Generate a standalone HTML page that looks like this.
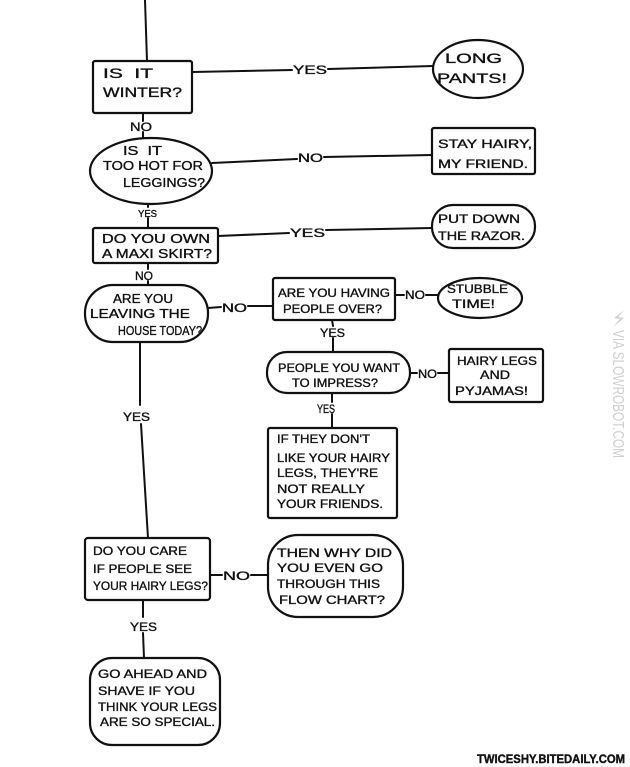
<!DOCTYPE html>
<html><head><meta charset="utf-8"><style>
html,body{margin:0;padding:0;background:#fff;}
svg{display:block;}
text{font-family:"Liberation Sans",sans-serif;fill:#111;stroke:#111;stroke-width:0.35;}
.l{fill:none;stroke:#111;stroke-width:2;stroke-linecap:round;}
.s{fill:#fff;stroke:#111;stroke-width:2.2;}
</style></head><body>
<svg width="630" height="767" viewBox="0 0 630 767" xmlns="http://www.w3.org/2000/svg">
<rect width="630" height="767" fill="#fff"/>
<!-- connectors -->
<path class="l" d="M145 0 L147 61"/>
<path class="l" d="M192 72 L292 70 M328 69 L433 66"/>
<path class="l" d="M143 113 L143 121 M143 132 L143 139"/>
<path class="l" d="M212 163 L297 159 M324 157 L432 155"/>
<path class="l" d="M148 203 L148 207 M148 218 L148 228"/>
<path class="l" d="M218 236 L289 233 M326 230 L432 228"/>
<path class="l" d="M148 263 L148 269 M148 281 L148 285"/>
<path class="l" d="M208 308 L221 307 M248 306 L273 306"/>
<path class="l" d="M395 295 L404 295 M426 295 L438 295"/>
<path class="l" d="M332 320 L333 326 M333 338 L333 352"/>
<path class="l" d="M410 373 L417 373 M438 373 L450 373"/>
<path class="l" d="M332 393 L332 402 M332 414 L332 428"/>
<path class="l" d="M140 342 L140 405 M141 424 L148 538"/>
<path class="l" d="M210 575 L222 575 M251 575 L268 575"/>
<path class="l" d="M143 600 L143 617 M143 633 L144 658"/>

<!-- shapes -->
<rect class="s" x="93" y="61" width="99" height="52" rx="2"/>
<ellipse class="s" cx="478" cy="69" rx="45" ry="29"/>
<ellipse class="s" cx="151" cy="171" rx="61" ry="33"/>
<rect class="s" x="432" y="128" width="103" height="46" rx="2"/>
<rect class="s" x="93" y="228" width="125" height="35" rx="2"/>
<rect class="s" x="432" y="205" width="103" height="43" rx="21"/>
<rect class="s" x="85" y="285" width="123" height="57" rx="28"/>
<rect class="s" x="273" y="278" width="122" height="42" rx="2"/>
<ellipse class="s" cx="480" cy="298" rx="42" ry="20"/>
<rect class="s" x="267" y="352" width="143" height="41" rx="20"/>
<rect class="s" x="449" y="349" width="94" height="53" rx="2"/>
<rect class="s" x="268" y="428" width="129" height="90" rx="2"/>
<rect class="s" x="85" y="538" width="125" height="62" rx="3"/>
<rect class="s" x="268" y="535" width="135" height="82" rx="30"/>
<rect class="s" x="90" y="658" width="130" height="87" rx="22"/>

<!-- node text -->
<g font-size="14">
<text x="103" y="78" textLength="50" lengthAdjust="spacingAndGlyphs">IS&#160;&#160;IT</text>
<text x="103" y="97" textLength="79" lengthAdjust="spacingAndGlyphs">WINTER?</text>
<text x="445" y="63" textLength="57" lengthAdjust="spacingAndGlyphs">LONG</text>
<text x="437" y="83" textLength="70" lengthAdjust="spacingAndGlyphs">PANTS!</text>
</g>
<g font-size="13">
<text x="123" y="155" textLength="39" lengthAdjust="spacingAndGlyphs">IS&#160;&#160;IT</text>
<text x="103" y="170" textLength="100" lengthAdjust="spacingAndGlyphs">TOO HOT FOR</text>
<text x="123" y="187" textLength="82" lengthAdjust="spacingAndGlyphs">LEGGINGS?</text>
<text x="102" y="243" textLength="108" lengthAdjust="spacingAndGlyphs">DO YOU OWN</text>
<text x="102" y="258" textLength="110" lengthAdjust="spacingAndGlyphs">A MAXI SKIRT?</text>
<text x="113" y="303" textLength="60" lengthAdjust="spacingAndGlyphs">ARE YOU</text>
<text x="90" y="318" textLength="100" lengthAdjust="spacingAndGlyphs">LEAVING THE</text>
<text x="118" y="335" textLength="84" lengthAdjust="spacingAndGlyphs">HOUSE TODAY?</text>
</g>
<g font-size="12">
<text x="438" y="148" textLength="94" lengthAdjust="spacingAndGlyphs">STAY HAIRY,</text>
<text x="438" y="168" textLength="90" lengthAdjust="spacingAndGlyphs">MY FRIEND.</text>
<text x="438" y="223" textLength="82" lengthAdjust="spacingAndGlyphs">PUT DOWN</text>
<text x="438" y="240" textLength="87" lengthAdjust="spacingAndGlyphs">THE RAZOR.</text>
<text x="278" y="297" textLength="112" lengthAdjust="spacingAndGlyphs">ARE YOU HAVING</text>
<text x="283" y="313" textLength="99" lengthAdjust="spacingAndGlyphs">PEOPLE OVER?</text>
<text x="447" y="293" textLength="61" lengthAdjust="spacingAndGlyphs">STUBBLE</text>
<text x="452" y="308" textLength="43" lengthAdjust="spacingAndGlyphs">TIME!</text>
<text x="278" y="372" textLength="122" lengthAdjust="spacingAndGlyphs">PEOPLE YOU WANT</text>
<text x="292" y="387" textLength="86" lengthAdjust="spacingAndGlyphs">TO IMPRESS?</text>
<text x="457" y="365" textLength="80" lengthAdjust="spacingAndGlyphs">HAIRY LEGS</text>
<text x="480" y="379" textLength="30" lengthAdjust="spacingAndGlyphs">AND</text>
<text x="455" y="395" textLength="73" lengthAdjust="spacingAndGlyphs">PYJAMAS!</text>
<text x="277" y="443" textLength="93" lengthAdjust="spacingAndGlyphs">IF THEY DON'T</text>
<text x="277" y="462" textLength="113" lengthAdjust="spacingAndGlyphs">LIKE YOUR HAIRY</text>
<text x="277" y="477" textLength="101" lengthAdjust="spacingAndGlyphs">LEGS, THEY'RE</text>
<text x="277" y="493" textLength="88" lengthAdjust="spacingAndGlyphs">NOT REALLY</text>
<text x="277" y="508" textLength="106" lengthAdjust="spacingAndGlyphs">YOUR FRIENDS.</text>
<text x="93" y="555" textLength="94" lengthAdjust="spacingAndGlyphs">DO YOU CARE</text>
<text x="93" y="573" textLength="99" lengthAdjust="spacingAndGlyphs">IF PEOPLE SEE</text>
<text x="93" y="590" textLength="115" lengthAdjust="spacingAndGlyphs">YOUR HAIRY LEGS?</text>
<text x="277" y="557" textLength="115" lengthAdjust="spacingAndGlyphs">THEN WHY DID</text>
<text x="277" y="572" textLength="106" lengthAdjust="spacingAndGlyphs">YOU EVEN GO</text>
<text x="277" y="588" textLength="103" lengthAdjust="spacingAndGlyphs">THROUGH THIS</text>
<text x="279" y="604" textLength="106" lengthAdjust="spacingAndGlyphs">FLOW CHART?</text>
<text x="98" y="678" textLength="109" lengthAdjust="spacingAndGlyphs">GO AHEAD AND</text>
<text x="98" y="695" textLength="97" lengthAdjust="spacingAndGlyphs">SHAVE IF YOU</text>
<text x="98" y="711" textLength="119" lengthAdjust="spacingAndGlyphs">THINK YOUR LEGS</text>
<text x="100" y="726" textLength="115" lengthAdjust="spacingAndGlyphs">ARE SO SPECIAL.</text>
</g>

<!-- connector labels -->
<g font-size="12">
<text x="293" y="74" textLength="34" lengthAdjust="spacingAndGlyphs">YES</text>
<text x="130" y="131" textLength="22" lengthAdjust="spacingAndGlyphs">NO</text>
<text x="298" y="162" textLength="25" lengthAdjust="spacingAndGlyphs">NO</text>
<text x="290" y="237" textLength="35" lengthAdjust="spacingAndGlyphs">YES</text>
<text x="135" y="280" textLength="18" lengthAdjust="spacingAndGlyphs">NO</text>
<text x="222" y="312" textLength="25" lengthAdjust="spacingAndGlyphs">NO</text>
<text x="405" y="299" textLength="20" lengthAdjust="spacingAndGlyphs">NO</text>
<text x="320" y="337" textLength="25" lengthAdjust="spacingAndGlyphs">YES</text>
<text x="418" y="378" textLength="19" lengthAdjust="spacingAndGlyphs">NO</text>
<text x="317" y="413" textLength="18" lengthAdjust="spacingAndGlyphs">YES</text>
<text x="123" y="421" textLength="27" lengthAdjust="spacingAndGlyphs">YES</text>
<text x="223" y="580" textLength="27" lengthAdjust="spacingAndGlyphs">NO</text>
<text x="130" y="631" textLength="27" lengthAdjust="spacingAndGlyphs">YES</text>
</g>
<text x="138" y="217" font-size="10" textLength="19" lengthAdjust="spacingAndGlyphs">YES</text>

<!-- watermarks -->
<path d="M624 310 L614 318 L620 319 L613 327 L624 318 L618 317 Z" fill="#cfcfcf"/>
<text transform="translate(613,330) rotate(90)" font-size="16" style="fill:#cfcfcf;stroke:none" textLength="128" lengthAdjust="spacingAndGlyphs">VIA SLOWROBOT.COM</text>
<text x="477" y="763" font-size="12" font-weight="bold" style="fill:#111;stroke:#111;stroke-width:0.4" textLength="148" lengthAdjust="spacingAndGlyphs">TWICESHY.BITEDAILY.COM</text>
</svg>
</body></html>
